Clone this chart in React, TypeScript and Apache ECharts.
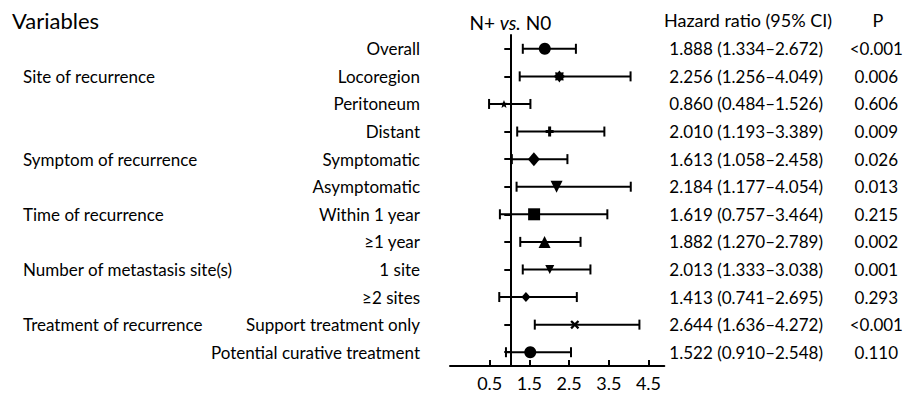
import React, { useEffect, useRef } from "react";
import * as echarts from "echarts";

// Subgroups (rows, top to bottom) and their group headings
const rows = [
  "Overall",
  "Locoregion",
  "Peritoneum",
  "Distant",
  "Symptomatic",
  "Asymptomatic",
  "Within 1 year",
  "≥1 year",
  "1 site",
  "≥2 sites",
  "Support treatment only",
  "Potential curative treatment",
];
const groups = [
  "",
  "Site of recurrence",
  "",
  "",
  "Symptom of recurrence",
  "",
  "Time of recurrence",
  "",
  "Number of metastasis site(s)",
  "",
  "Treatment of recurrence",
  "",
];

// Hazard ratios with 95% confidence limits, and P values
const hr = [1.888, 2.256, 0.86, 2.01, 1.613, 2.184, 1.619, 1.882, 2.013, 1.413, 2.644, 1.522];
const lo = [1.334, 1.256, 0.484, 1.193, 1.058, 1.177, 0.757, 1.27, 1.333, 0.741, 1.636, 0.91];
const hi = [2.672, 4.049, 1.526, 3.389, 2.458, 4.054, 3.464, 2.789, 3.038, 2.695, 4.272, 2.548];
const pValues = ["<0.001", "0.006", "0.606", "0.009", "0.026", "0.013", "0.215", "0.002", "0.001", "0.293", "<0.001", "0.110"];

// Axis ticks and the reference (no effect) line
const xTicks = [0.5, 1.5, 2.5, 3.5, 4.5];
const refValue = 1;

// Star outline for the burst markers
function starPath(points: number, outer: number, inner: number): string {
  const parts: string[] = [];
  for (let k = 0; k < points * 2; k++) {
    const r = k % 2 === 0 ? outer : inner;
    const a = (Math.PI * k) / points - Math.PI / 2;
    const x = (outer + r * Math.cos(a)).toFixed(2);
    const y = (outer + r * Math.sin(a)).toFixed(2);
    parts.push(`${k === 0 ? "M" : "L"}${x},${y}`);
  }
  return "path://" + parts.join("") + "Z";
}

const PLUS = "path://M3.5,0H6.5V10H3.5Z M1,3.5H9V6.5H1Z";
const CROSS = "path://M0,1.8L1.8,0L5,3.2L8.2,0L10,1.8L6.8,5L10,8.2L8.2,10L5,6.8L1.8,10L0,8.2L3.2,5Z";

const markerStyles = [
  { symbol: "circle", size: 12 },
  { symbol: starPath(8, 10, 7), size: 12 },
  { symbol: starPath(5, 10, 4.5), size: 8 },
  { symbol: PLUS, size: [8, 10] },
  { symbol: "diamond", size: [12, 14] },
  { symbol: "triangle", size: 12, rotate: 180 },
  { symbol: "rect", size: 12 },
  { symbol: "triangle", size: 12 },
  { symbol: "triangle", size: 9, rotate: 180 },
  { symbol: "diamond", size: [9, 10] },
  { symbol: CROSS, size: 9 },
  { symbol: "circle", size: 12 },
];

const FONT = "Lato, 'Open Sans', sans-serif";
const FS = 17;
const W = 906;
const H = 396;
const GRID = { left: 450, right: 239, top: 35, bottom: 30 };
const X_MIN = -0.5;
const X_MAX = 4.9;

export default function App() {
  const ref = useRef<HTMLDivElement>(null);

  useEffect(() => {
    document.body.style.margin = "0";
    if (!ref.current) return;
    const chart = echarts.init(ref.current, null, { renderer: "svg" });

    const plotW = W - GRID.left - GRID.right;
    const refX = GRID.left + (plotW * (refValue - X_MIN)) / (X_MAX - X_MIN);
    const fmt = (v: number) => v.toFixed(3);

    const option: any = {
      animation: false,
      backgroundColor: "#fff",
      textStyle: { fontFamily: FONT, color: "#000" },
      grid: { ...GRID },
      xAxis: {
        type: "value",
        min: X_MIN,
        max: X_MAX,
        splitLine: { show: false },
        axisLine: { show: true, onZero: false, lineStyle: { color: "#000", width: 2 } },
        axisTick: {
          show: true,
          inside: true,
          length: 6,
          customValues: xTicks,
          lineStyle: { color: "#000", width: 2 },
        },
        axisLabel: {
          customValues: xTicks,
          formatter: (v: number) => v.toFixed(1),
          color: "#000",
          fontFamily: FONT,
          fontSize: 18,
          margin: 8,
        },
      },
      yAxis: [
        {
          // vertical reference line at HR = 1
          type: "category",
          data: rows,
          inverse: true,
          position: "left",
          offset: -(refX - GRID.left),
          axisLine: { show: true, lineStyle: { color: "#000", width: 2 } },
          axisTick: { show: true, alignWithLabel: true, length: 6, lineStyle: { color: "#000", width: 2 } },
          axisLabel: { show: false },
          splitLine: { show: false },
        },
        {
          // subgroup names
          type: "category",
          data: rows,
          inverse: true,
          position: "left",
          offset: 0,
          axisLine: { show: false },
          axisTick: { show: false },
          axisLabel: { color: "#000", fontFamily: FONT, fontSize: FS, margin: 30 },
        },
        {
          // group headings
          type: "category",
          data: groups.map((g, i) => g || " ".repeat(i + 1)),
          inverse: true,
          position: "left",
          offset: 0,
          axisLine: { show: false },
          axisTick: { show: false },
          axisLabel: {
            color: "#000",
            fontFamily: FONT,
            fontSize: FS,
            margin: GRID.left - 23,
            align: "left",
            formatter: (_v: string, i: number) => groups[i],
          },
        },
        {
          // hazard ratio and P columns
          type: "category",
          data: rows,
          inverse: true,
          position: "right",
          offset: 0,
          axisLine: { show: false },
          axisTick: { show: false },
          axisLabel: {
            margin: 5,
            formatter: (_v: string, i: number) =>
              `{hr|${fmt(hr[i])} (${fmt(lo[i])}–${fmt(hi[i])})}{p|${pValues[i]}}`,
            rich: {
              hr: { width: 182, align: "left", color: "#000", fontFamily: FONT, fontSize: FS },
              p: { width: 50, align: "center", color: "#000", fontFamily: FONT, fontSize: FS },
            },
          },
        },
      ],
      graphic: [
        {
          type: "text",
          x: 12,
          y: 20,
          style: { text: "Variables", font: `22px ${FONT}`, fill: "#000", align: "left", verticalAlign: "middle" },
        },
        {
          type: "text",
          x: refX,
          y: 22,
          style: {
            text: "{a|N+ }{i|vs.}{a| N0}",
            align: "center",
            verticalAlign: "middle",
            rich: {
              a: { fontFamily: FONT, fontSize: 19, fill: "#000" },
              i: { fontFamily: FONT, fontSize: 19, fontStyle: "italic", fill: "#000" },
            },
          },
        },
        {
          type: "text",
          x: 664,
          y: 20,
          style: { text: "Hazard ratio (95% CI)", font: `18px ${FONT}`, fill: "#000", align: "left", verticalAlign: "middle" },
        },
        {
          type: "text",
          x: 878,
          y: 20,
          style: { text: "P", font: `18px ${FONT}`, fill: "#000", align: "center", verticalAlign: "middle" },
        },
      ],
      series: [
        {
          type: "custom",
          name: "95% CI",
          xAxisIndex: 0,
          yAxisIndex: 0,
          data: rows.map((_, i) => [lo[i], hi[i], i]),
          encode: { x: [0, 1], y: 2 },
          z: 2,
          renderItem: (_params: any, api: any) => {
            const a = api.coord([api.value(0), api.value(2)]);
            const b = api.coord([api.value(1), api.value(2)]);
            const cap = 5;
            const st = { stroke: "#000", lineWidth: 2 };
            return {
              type: "group",
              children: [
                { type: "line", shape: { x1: a[0], y1: a[1], x2: b[0], y2: b[1] }, style: st },
                { type: "line", shape: { x1: a[0], y1: a[1] - cap, x2: a[0], y2: a[1] + cap }, style: st },
                { type: "line", shape: { x1: b[0], y1: b[1] - cap, x2: b[0], y2: b[1] + cap }, style: st },
              ],
            };
          },
        },
        {
          type: "scatter",
          name: "Hazard ratio",
          xAxisIndex: 0,
          yAxisIndex: 0,
          z: 3,
          itemStyle: { color: "#000", opacity: 1 },
          data: rows.map((_, i) => ({
            value: [hr[i], i],
            symbol: markerStyles[i].symbol,
            symbolSize: markerStyles[i].size,
            symbolRotate: markerStyles[i].rotate || 0,
          })),
        },
      ],
    };

    chart.setOption(option);
    return () => chart.dispose();
  }, []);

  return <div ref={ref} style={{ width: W, height: H }} />;
}
